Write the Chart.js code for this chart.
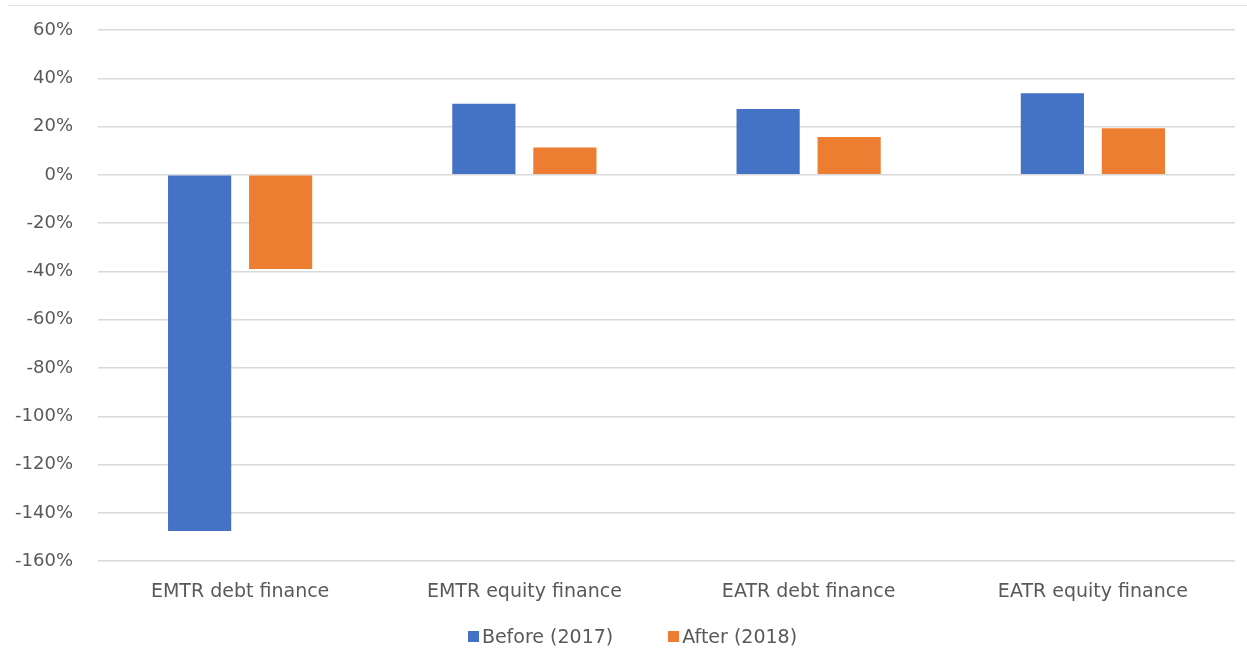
<!DOCTYPE html>
<html>
<head>
<meta charset="utf-8">
<script src="https://cdn.jsdelivr.net/npm/chart.js@4.4.1/dist/chart.umd.min.js"></script>
<style>
  html, body { margin: 0; padding: 0; background: #fff; }
  #wrap { position: relative; width: 1247px; height: 669px; }
  #topline { position: absolute; left: 8px; right: 0; top: 5px; border-top: 1px solid #e4e4e4; }
  #tax-chart { display: block; }
  #tax-chart-legend { position: absolute; left: 9px; width: 1247px; top: 624px; }
  #tax-chart-legend ul { margin: 0; padding: 0; list-style: none; display: flex; justify-content: center; gap: 55px; }
  #tax-chart-legend li { font-family: 'DejaVu Sans', sans-serif; font-size: 19px; line-height: 24px; color: #595959; display: flex; align-items: center; }
  #tax-chart-legend span { display: inline-block; width: 11px; height: 11px; margin-right: 3px; }
</style>
</head>
<body>
<div id="wrap">
  <div id="topline"></div>
  <canvas id="tax-chart" width="1247" height="669"></canvas>
  <div id="tax-chart-legend"></div>
</div>
<script>
  'use strict';

  const categories = ['EMTR debt finance', 'EMTR equity finance', 'EATR debt finance', 'EATR equity finance'];
  const beforeValues = [-147.5, 29.5, 27.3, 33.8];
  const afterValues = [-39, 11.3, 15.7, 19.3];
  const seriesLabels = ['Before (2017)', 'After (2018)'];

  const blue = '#4472C4';
  const orange = '#ED7D31';
  const textColor = '#595959';
  const fontFamily = "'DejaVu Sans', sans-serif";

  const ctx = document.getElementById('tax-chart');

  new Chart(ctx, {
    type: 'bar',
    data: {
      labels: categories,
      datasets: [
        {
          label: seriesLabels[0],
          data: beforeValues,
          backgroundColor: blue,
          borderWidth: 0,
          barPercentage: 0.78,
          categoryPercentage: 0.57,
        },
        {
          label: seriesLabels[1],
          data: afterValues,
          backgroundColor: orange,
          borderWidth: 0,
          barPercentage: 0.78,
          categoryPercentage: 0.57,
        }
      ]
    },
    options: {
      responsive: false,
      animation: false,
      layout: {
        padding: { top: 30, right: 12, bottom: 47, left: 0 }
      },
      scales: {
        y: {
          min: -160,
          max: 60,
          border: { display: false },
          grid: {
            color: '#d9d9d9',
            lineWidth: 1.5,
            drawTicks: false,
          },
          ticks: {
            stepSize: 20,
            padding: 25,
            color: textColor,
            font: { family: fontFamily, size: 18 },
            callback: (v) => v + '%',
          },
          afterFit: (scale) => {
            scale.width = 98;
            // tick padding is for the horizontal gap only
            scale.paddingTop = 0;
            scale.paddingBottom = 0;
          }
        },
        x: {
          border: { display: false },
          grid: { display: false, drawTicks: false },
          ticks: {
            padding: 19,
            color: textColor,
            font: { family: fontFamily, size: 19 },
          }
        }
      },
      plugins: {
        legend: { display: false },
        tooltip: { enabled: false }
      }
    },
    plugins: [{
      afterInit: function (chart) {
        const legendElement = document.getElementById(`${chart.canvas.id}-legend`);
        if (legendElement) {
          const ul = document.createElement('ul');
          chart.data.datasets.forEach((dataset) => {
            ul.innerHTML += `<li><span style="background-color: ${dataset.backgroundColor}"></span>${dataset.label}</li>`;
          });
          legendElement.appendChild(ul);
        }
      }
    }]
  });
</script>
</body>
</html>
